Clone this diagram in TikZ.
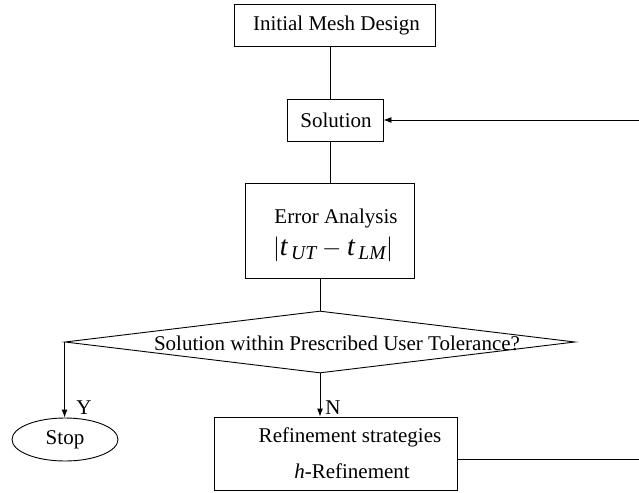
\documentclass[tikz,border=0pt]{standalone}
\usepackage{amsmath}
\usepackage{fontspec}
\setmainfont{Liberation Serif}
\usetikzlibrary{shapes.geometric,arrows.meta}
\tikzset{
  boxnode/.style={draw, line width=0.9pt, inner sep=0pt, rectangle},
  txt/.style={inner sep=0pt, font=\fontsize{21}{24}\selectfont},
  conn/.style={line width=0.9pt},
  arr/.style={line width=0.9pt, -{Latex[length=8pt,width=6pt]}},
}
\begin{document}
\begin{tikzpicture}[x=1pt,y=-1pt]
\useasboundingbox (0,0) rectangle (639,492);
% boxes
\node[boxnode, minimum width=201pt, minimum height=42pt] (init) at (334.5,25) {};
\node[txt] (initT) at (336.5,25) {Initial Mesh Design};
\node[boxnode, minimum width=96pt, minimum height=42pt] (sol) at (335,120) {};
\node[txt] (solT) at (336,120) {Solution};
\node[boxnode, minimum width=169pt, minimum height=95pt] (err) at (329.5,231) {};
\node[txt] (errT) at (336,218) {Error Analysis};
\node[txt, font=\fontsize{28}{30}\selectfont] (errF) at (333,249) {$\left\lvert\textit{t}_{\,\textit{UT}}-\textit{t}_{\,\textit{LM}}\right\rvert$};
\node[draw, line width=0.9pt, diamond, inner sep=0pt, minimum width=510pt, minimum height=62pt] (dia) at (320,342) {};
\node[txt] (diaT) at (337,343) {Solution within Prescribed User Tolerance?};
\node[draw, line width=0.9pt, ellipse, inner sep=0pt, minimum width=106pt, minimum height=43pt] (stop) at (65,439.5) {};
\node[txt] (stopT) at (65,439.5) {Stop};
\node[boxnode, minimum width=243pt, minimum height=73pt] (ref) at (335.5,453.5) {};
\node[txt] (refT1) at (350,437) {Refinement strategies};
\node[txt] (refT2) at (352,471) {\textit{h}-Refinement};
% labels
\node[txt] (Y) at (84,408) {Y};
\node[txt] (N) at (333,408) {N};
% connectors
\draw[conn] ([xshift=-4.5pt]init.south) -- ([xshift=-4.5pt]init.south |- sol.north);
\draw[conn] ([xshift=-5pt]sol.south) -- ([xshift=-5pt]sol.south |- err.north);
\draw[conn] ([xshift=-9.5pt]err.south) -- (dia.north);
\draw[arr] (dia.west) -- (dia.west |- stop.north);
\draw[arr] (dia.south) -- (dia.south |- ref.north);
\coordinate (fbA) at (639,459);
\coordinate (fbB) at (639,120);
\draw[conn] (ref.east |- fbA) -- (fbA);
\draw[arr] (fbB) -- (sol.east |- fbB);
\end{tikzpicture}
\end{document}
